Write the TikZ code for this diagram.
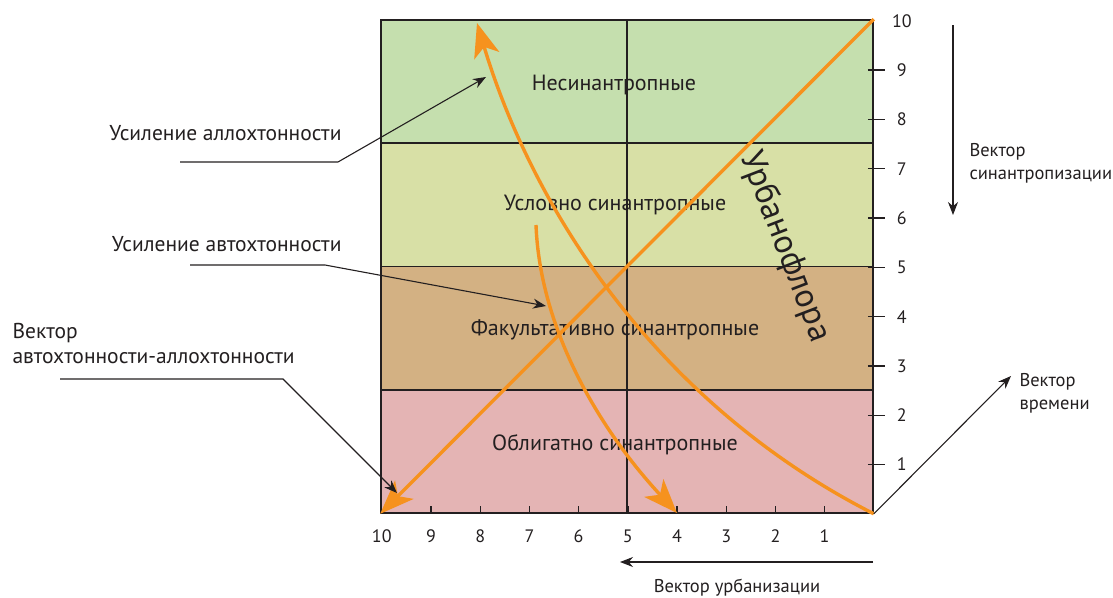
\documentclass[tikz,border=0pt]{standalone}
\usepackage{fontspec}
\setmainfont{PT Sans}
\usetikzlibrary{arrows.meta, calc, positioning}

\definecolor{nesgreen}{RGB}{197,223,174}
\definecolor{uslime}{RGB}{216,224,166}
\definecolor{faktan}{RGB}{211,177,131}
\definecolor{oblpink}{RGB}{228,180,180}
\definecolor{urborange}{RGB}{246,146,30}
\definecolor{ink}{RGB}{35,31,32}

\begin{document}
\begin{tikzpicture}[
  x=1pt, y=-1pt,
  >={Stealth[length=13pt,width=10pt]},
  band/.style={draw=ink, line width=1.6pt, minimum width=492pt,
               minimum height=123.25pt, inner sep=0pt},
  lbl/.style={font=\fontsize{22}{26}\selectfont, text=ink},
  note/.style={font=\fontsize{21.5}{25}\selectfont, text=ink, align=left},
  side/.style={font=\fontsize{18.5}{23}\selectfont, text=ink, align=left},
  num/.style={font=\fontsize{18}{20}\selectfont, text=ink},
  axl/.style={draw=ink, line width=1.4pt},
  arr/.style={->, draw=ink, line width=1.1pt},
  org/.style={draw=urborange, line width=3.4pt,
              -{Stealth[length=34pt,width=26pt,inset=9pt]}},
]
\useasboundingbox (0,0) rectangle (1113,597);
% Zones, top to bottom
\node[band, fill=nesgreen] (z1) at (627,81.6)  {};
\node[band, fill=uslime]   (z2) at (627,204.9) {};
\node[band, fill=faktan]   (z3) at (627,328.1) {};
\node[band, fill=oblpink]  (z4) at (627,451.4) {};
\draw[axl] (z1.north) -- (z4.south);
% Zone labels
\node[lbl] (l1) at (614,85)  {Несинантропные};
\node[lbl] (l2) at (615,205) {Условно синантропные};
\node[lbl] (l3) at (615,330) {Факультативно синантропные};
\node[lbl] (l4) at (615,445) {Облигатно синантропные};
% Corners
\coordinate (o)  at (z4.south east);
\coordinate (bl) at (z4.south west);
\coordinate (tr) at (z1.north east);
% Right scale
\foreach \i in {1,...,9}
  \draw[axl] ($(o)+(-6,-49.3*\i)$) -- ++(17,0);
\foreach \i in {1,...,10}
  \node[num] (r\i) at ($(o)+(28,-49.3*\i)$) {\i};
% Bottom scale
\foreach \n in {1,...,9}
  \draw[axl] ($(o)+(-49.2*\n,0)$) -- ++(0,-8);
\foreach \n in {1,...,10}
  \node[num] (b\n) at ($(o)+(-49.2*\n,22)$) {\n};
% Orange vectors
\coordinate (nestip) at (477,23);
\coordinate (fs) at (536,225);
\coordinate (fe) at (677,513);
\draw[org] (tr) -- (bl);
\draw[org] (o) .. controls (650,400) and (530,200) .. (nestip);
\draw[org] (fs) .. controls (540,330) and (600,430) .. (fe);
\node[font=\fontsize{34}{38}\selectfont, rotate=-69, text=ink] (urb) at (785,247) {Урбанофлора};
% Left notes
\node[note, anchor=east] (allo) at (345,133) {Усиление аллохтонности};
\coordinate (allo0) at (180,162);
\coordinate (allo1) at (338,162);
\coordinate (allo2) at (486,77);
\draw[arr] (allo0) -- (allo1) -- (allo2);
\node[note, anchor=east] (auto) at (345,244) {Усиление автохтонности};
\coordinate (auto0) at (190,265);
\coordinate (auto1) at (325,265);
\coordinate (auto2) at (546,306);
\draw[arr] (auto0) -- (auto1) -- (auto2);
\node[note, anchor=west] (aa) at (9,344) {Вектор\\автохтонности-аллохтонности};
\coordinate (aa0) at (60,379);
\coordinate (aa1) at (283,379);
\coordinate (aa2) at (397,493);
\draw[arr] (aa0) -- (aa1) -- (aa2);
% Right vectors
\coordinate (s0) at (953,25);
\coordinate (s1) at (953,215);
\draw[arr] (s0) -- (s1);
\node[side, anchor=west] (sin) at (966,163) {Вектор\\синантропизации};
\coordinate (t1) at (1011,376);
\draw[arr] (o) -- (t1);
\node[side, anchor=west] (vr) at (1016,393) {Вектор\\времени};
\coordinate (u0) at (873,562);
\coordinate (u1) at (620,562);
\draw[arr] (u0) -- (u1);
\node[side] (urbv) at (737,588) {Вектор урбанизации};
\end{tikzpicture}
\end{document}
